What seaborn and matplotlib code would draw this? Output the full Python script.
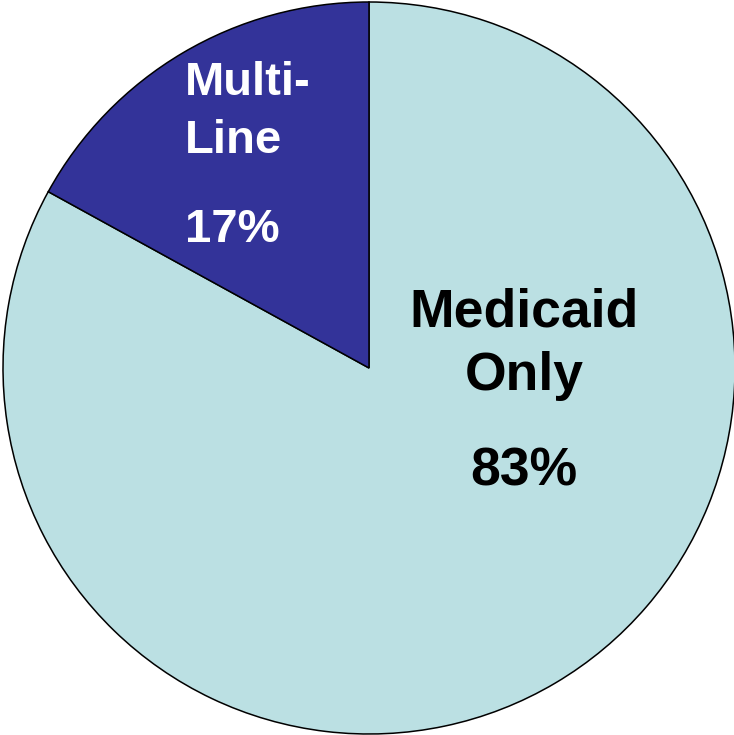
import matplotlib
matplotlib.use("Agg")
import matplotlib.pyplot as plt
import seaborn as sns

sns.set_theme(style="white")
plt.rcParams['font.family'] = ['Liberation Sans', 'DejaVu Sans']

# Share of plans by line of business
segments = ["Medicaid Only", "Multi-Line"]
shares = [83, 17]
colors = ["#BBE0E3", "#333399"]

W, H, DPI = 734, 735, 100
fig = plt.figure(figsize=(W / DPI, H / DPI), dpi=DPI)
ax = fig.add_axes([0, 0, 1, 1])

# pie geometry in pixels
cx, cy, r = 369, 368, 366

ax.pie(shares, colors=colors, startangle=90, counterclock=False,
       radius=1, center=(0, 0),
       wedgeprops=dict(edgecolor="black", linewidth=1.1))

ax.set_xlim(-cx / r, (W - cx) / r)
ax.set_ylim(-(H - cy) / r, cy / r)
ax.set_aspect("auto")
ax.axis("off")


def px(x, y):
    return (x - cx) / r, (cy - y) / r


# Medicaid Only label (centered)
for txt, ypx in [("Medicaid", 326), ("Only", 390), (f"{shares[0]}%", 485)]:
    x, y = px(524, ypx)
    ax.text(x, y, txt, ha="center", va="baseline", fontsize=38.5,
            fontweight="bold", color="black")

# Multi-Line label (left aligned)
for txt, ypx in [("Multi-", 95), ("Line", 153), (f"{shares[1]}%", 242)]:
    x, y = px(185, ypx)
    ax.text(x, y, txt, ha="left", va="baseline", fontsize=34,
            fontweight="bold", color="white")

fig.savefig("out.png", dpi=DPI, facecolor="white")
